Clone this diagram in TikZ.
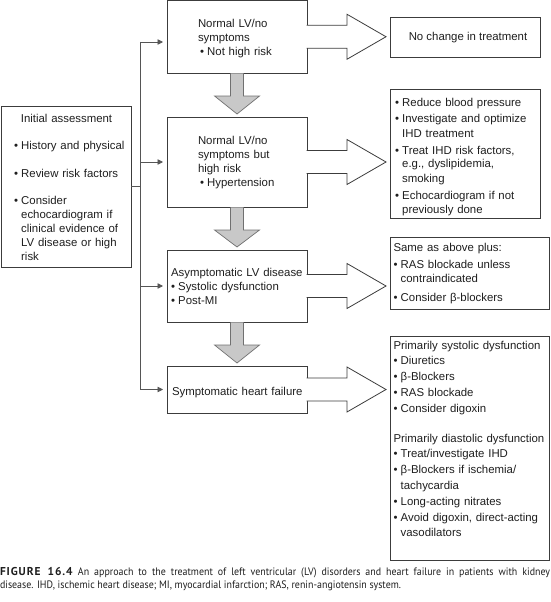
\documentclass[tikz,border=0pt]{standalone}
\usepackage{fontspec}
\usepackage{graphicx}
\setmainfont{Liberation Sans}
\newfontfamily\capfont[FakeStretch=0.92]{PT Sans}
\newfontfamily\capfig[LetterSpace=8]{PT Sans}
\usetikzlibrary{arrows.meta,calc}
\definecolor{boxline}{HTML}{3C3C3C}
\definecolor{connline}{HTML}{555555}
\definecolor{downfill}{HTML}{C8C8C8}
\definecolor{downline}{HTML}{707070}
\definecolor{txt}{HTML}{1E1E1E}
\newcommand\bl{\makebox[7.2pt][l]{•}}
\newcommand\ci{\hspace*{7.2pt}}
\newcommand\bigarr[2]{%
  \draw[bigarrow] ($(#1.east)+(-0.45,-11.5)$) -- ++(40.45,0) -- ++(0,-11)
    -- ($(#1.east -| #2.west)+(-4,0)$) -- ($(#1.east)+(40,22.5)$) -- ++(0,-11)
    -- ($(#1.east)+(-0.45,11.5)$);}
\newcommand\downarr[2]{%
  \draw[downarrow] ($(#1.south)+(-6.5,0.45)$) -- ($(#1.south)+(-6.5,23)$) -- ++(-16,0)
    -- ($(#2.north)+(0,-3)$) -- ($(#1.south)+(22.5,23)$) -- ++(-16,0)
    -- ($(#1.south)+(6.5,0.45)$);}
\begin{document}
\begin{tikzpicture}[x=1pt,y=-1pt,
  box/.style={draw=boxline,line width=0.9pt,inner sep=0pt,outer sep=0pt,anchor=north west},
  txtblock/.style={anchor=base west,inner sep=0pt,outer sep=0pt,text width=165pt,align=left,text=txt,
    font=\fontsize{11.4}{14}\selectfont},
  txtline/.style={anchor=base,inner sep=0pt,text=txt,font=\fontsize{11.4}{14}\selectfont},
  capline/.style={anchor=base west,inner sep=0pt,outer sep=0pt,text=txt,
    font=\capfont\fontsize{10.8}{13}\selectfont},
  conn/.style={draw=connline,line width=0.8pt},
  connarrow/.style={conn,-{Triangle[length=5.5pt,width=5.5pt]},shorten >=4pt},
  bigarrow/.style={draw=boxline,line width=0.8pt,fill=white,line join=miter},
  downarrow/.style={draw=downline,line width=0.7pt,fill=downfill,line join=miter},
]
\useasboundingbox (0,0) rectangle (550,602);

% boxes
\node[box,minimum width=129.5pt,minimum height=161pt] (init) at (1.5,106) {};
\node[box,minimum width=140pt,minimum height=72.5pt] (b1) at (167,0.5) {};
\node[box,minimum width=140pt,minimum height=90pt] (b2) at (167,117) {};
\node[box,minimum width=140pt,minimum height=72pt] (b3) at (167,250) {};
\node[box,minimum width=140pt,minimum height=47pt] (b4) at (167,366) {};
\node[box,minimum width=150pt,minimum height=40pt] (r1) at (390,17) {};
\node[box,minimum width=150pt,minimum height=129pt] (r2) at (390,89) {};
\node[box,minimum width=159pt,minimum height=72pt] (r3) at (390,237) {};
\node[box,minimum width=159pt,minimum height=224pt] (r4) at (390,336) {};

% texts
\node[txtblock] (tinit) at ($(init.north west)+(12.5,16)$) {%
\makebox[105pt]{Initial assessment}\\[13.5pt]
\bl History and physical\\[13.5pt]
\bl Review risk factors\\[13.5pt]
\bl Consider\\
\ci echocardiogram if\\
\ci clinical evidence of\\
\ci LV disease or high\\
\ci risk};

\node[txtblock] (tb1) at ($(b1.north west)+(31,27.5)$) {%
Normal LV/no\\
symptoms\\
\hspace*{2pt}\bl Not high risk};

\node[txtblock] (tb2) at ($(b2.north west)+(31,27)$) {%
Normal LV/no\\
symptoms but\\
high risk\\
\hspace*{2pt}\bl Hypertension};

\node[txtblock] (tb3) at ($(b3.north west)+(4,26)$) {%
Asymptomatic LV disease\\
\bl Systolic dysfunction\\
\bl Post-MI};

\node[txtblock] (tb4) at ($(b4.north west)+(5,29)$) {Symptomatic heart failure};

\node[txtline] (tr1) at ($(r1.center)+(3,4)$) {No change in treatment};

\node[txtblock] (tr2) at ($(r2.north west)+(5,17)$) {%
\bl Reduce blood pressure\\[3pt]
\bl Investigate and optimize\\
\ci IHD treatment\\[3pt]
\bl Treat IHD risk factors,\\
\ci e.g., dyslipidemia,\\
\ci smoking\\[3pt]
\bl Echocardiogram if not\\
\ci previously done};

\node[txtblock] (tr3) at ($(r3.north west)+(3.5,14)$) {%
Same as above plus:\\[3pt]
\bl RAS blockade unless\\
\ci contraindicated\\[5pt]
\bl Consider β-blockers};

\node[txtblock,font=\fontsize{11.4}{15.8}\selectfont] (tr4) at ($(r4.north west)+(3.5,13)$) {%
Primarily systolic dysfunction\\
\bl Diuretics\\
\bl β-Blockers\\
\bl RAS blockade\\
\bl Consider digoxin\\[14pt]
Primarily diastolic dysfunction\\
\bl Treat/investigate IHD\\
\bl β-Blockers if ischemia/\\
\ci tachycardia\\
\bl Long-acting nitrates\\
\bl Avoid digoxin, direct-acting\\
\ci vasodilators};

% thin connectors
\coordinate (j1) at (140,42);
\coordinate (j4) at (j1 |- b4.west);
\draw[conn] (init.east) -- (init.east -| j1);
\draw[conn] (j1) -- (j4);
\draw[connarrow] (j1) -- (j1 -| b1.west);
\draw[connarrow] (j1 |- b2.west) -- (b2.west);
\draw[connarrow] (j1 |- b3.west) -- (b3.west);
\draw[connarrow] (j4) -- (b4.west);

% big arrows to the right
\bigarr{b1}{r1}
\bigarr{b2}{r2}
\bigarr{b3}{r3}
\bigarr{b4}{r4}

% grey down arrows
\downarr{b1}{b2}
\downarr{b2}{b3}
\downarr{b3}{b4}

% caption
\node[capline] (cap1) at (0,575.5) {\makebox[550pt][s]{{\capfig\bfseries\fontsize{11.4}{13}\selectfont FIGURE 16.4}\enspace An approach to the treatment of left ventricular (LV) disorders and heart failure in patients with kidney}};
\node[capline] (cap2) at (0,588.5) {disease. IHD, ischemic heart disease; MI, myocardial infarction; RAS, renin-angiotensin system.};
\end{tikzpicture}
\end{document}
